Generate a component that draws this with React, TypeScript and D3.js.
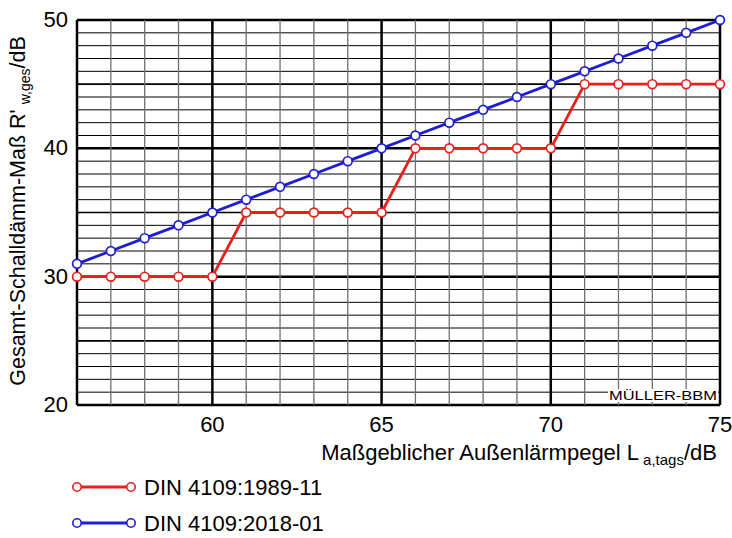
import { useEffect, useRef } from "react";
import * as d3 from "d3";

const xValues = [56, 57, 58, 59, 60, 61, 62, 63, 64, 65, 66, 67, 68, 69, 70, 71, 72, 73, 74, 75];
const din1989 = [30, 30, 30, 30, 30, 35, 35, 35, 35, 35, 40, 40, 40, 40, 40, 45, 45, 45, 45, 45];
const din2018 = [31, 32, 33, 34, 35, 36, 37, 38, 39, 40, 41, 42, 43, 44, 45, 46, 47, 48, 49, 50];
const xTicks = [60, 65, 70, 75];
const yTicks = [20, 30, 40, 50];
const seriesNames = ["DIN 4109:1989-11", "DIN 4109:2018-01"];
const seriesColors = ["#e8201c", "#1d1dd6"];

const FONT = "'Liberation Sans', Arial, sans-serif";

export default function App() {
  const svgRef = useRef<SVGSVGElement>(null);

  useEffect(() => {
    if (!svgRef.current) return;
    const svg = d3.select(svgRef.current);
    svg.selectAll("*").remove();

    const left = 77, right = 720, top = 20, bottom = 405;
    const x = d3.scaleLinear().domain([56, 75]).range([left, right]);
    const y = d3.scaleLinear().domain([20, 50]).range([bottom, top]);

    const grid = svg.append("g");
    // horizontal grid every 1 dB
    d3.range(20, 51).forEach((v) => {
      const w = v % 10 === 0 ? 2.5 : v % 5 === 0 ? 1.6 : 1;
      grid.append("line")
        .attr("x1", left).attr("x2", right)
        .attr("y1", y(v)).attr("y2", y(v))
        .attr("stroke", "#000").attr("stroke-width", w);
    });
    // vertical grid every 1 dB
    d3.range(56, 76).forEach((v) => {
      const major = v % 5 === 0;
      grid.append("line")
        .attr("x1", x(v)).attr("x2", x(v))
        .attr("y1", top).attr("y2", bottom)
        .attr("stroke", major ? "#000" : "#707070")
        .attr("stroke-width", major ? 2.5 : 1.3);
    });
    grid.append("line")
      .attr("x1", left).attr("x2", left).attr("y1", top).attr("y2", bottom)
      .attr("stroke", "#000").attr("stroke-width", 2.5);

    // tick labels
    svg.append("g").selectAll("text").data(yTicks).enter().append("text")
      .attr("x", 68).attr("y", (d) => y(d) + 7)
      .attr("text-anchor", "end")
      .attr("font-family", FONT).attr("font-size", 22)
      .text((d) => d);
    svg.append("g").selectAll("text").data(xTicks).enter().append("text")
      .attr("x", (d) => x(d)).attr("y", 432)
      .attr("text-anchor", "middle")
      .attr("font-family", FONT).attr("font-size", 22)
      .text((d) => d);

    // watermark
    const wmBg = svg.append("rect").attr("fill", "#fff");
    const wm = svg.append("text")
      .attr("x", 717).attr("y", 400)
      .attr("text-anchor", "end")
      .attr("font-family", FONT).attr("font-size", 13)
      .attr("textLength", 108).attr("lengthAdjust", "spacingAndGlyphs")
      .text("MÜLLER-BBM");
    const bb = (wm.node() as SVGTextElement).getBBox();
    wmBg
      .attr("x", bb.x - 1).attr("y", bb.y + 1)
      .attr("width", bb.width + 2).attr("height", bb.height - 2);

    // series
    const all = [din1989, din2018];
    all.forEach((vals, i) => {
      const pts = xValues.map((xv, j) => [xv, vals[j]] as [number, number]);
      const line = d3.line<[number, number]>().x((d) => x(d[0])).y((d) => y(d[1]));
      svg.append("path")
        .attr("d", line(pts) || "")
        .attr("fill", "none")
        .attr("stroke", seriesColors[i]).attr("stroke-width", 2.8);
      svg.append("g").selectAll("circle").data(pts).enter().append("circle")
        .attr("cx", (d) => x(d[0])).attr("cy", (d) => y(d[1]))
        .attr("r", 4.4)
        .attr("fill", "#fff")
        .attr("stroke", seriesColors[i]).attr("stroke-width", 1.7);
    });

    // axis titles
    const xt = svg.append("text")
      .attr("x", 717).attr("y", 460)
      .attr("text-anchor", "end")
      .attr("font-family", FONT).attr("font-size", 22);
    xt.append("tspan").text("Maßgeblicher Außenlärmpegel L");
    xt.append("tspan").attr("font-size", 15).attr("dx", 4).attr("dy", 5).text("a,tags");
    xt.append("tspan").attr("dy", -5).text("/dB");

    const yt = svg.append("text")
      .attr("transform", `translate(25,${211}) rotate(-90)`)
      .attr("text-anchor", "middle")
      .attr("font-family", FONT).attr("font-size", 21.5);
    yt.append("tspan").text("Gesamt-Schalldämm-Maß R'");
    yt.append("tspan").attr("font-size", 14).attr("dx", 5).attr("dy", 5).text("w,ges");
    yt.append("tspan").attr("dy", -5).text("/dB");

    // legend
    seriesNames.forEach((name, i) => {
      const ly = 487 + i * 36;
      const g = svg.append("g");
      g.append("line")
        .attr("x1", 77).attr("x2", 131).attr("y1", ly).attr("y2", ly)
        .attr("stroke", seriesColors[i]).attr("stroke-width", 2.8);
      [77, 131].forEach((cx) =>
        g.append("circle").attr("cx", cx).attr("cy", ly).attr("r", 4.2)
          .attr("fill", "#fff").attr("stroke", seriesColors[i]).attr("stroke-width", 1.6)
      );
      g.append("text")
        .attr("x", 144).attr("y", ly + 8)
        .attr("font-family", FONT).attr("font-size", 22)
        .text(name);
    });
  }, []);

  return (
    <svg
      ref={svgRef}
      width={732}
      height={538}
      style={{ position: "absolute", left: 0, top: 0, background: "#fff" }}
    />
  );
}
